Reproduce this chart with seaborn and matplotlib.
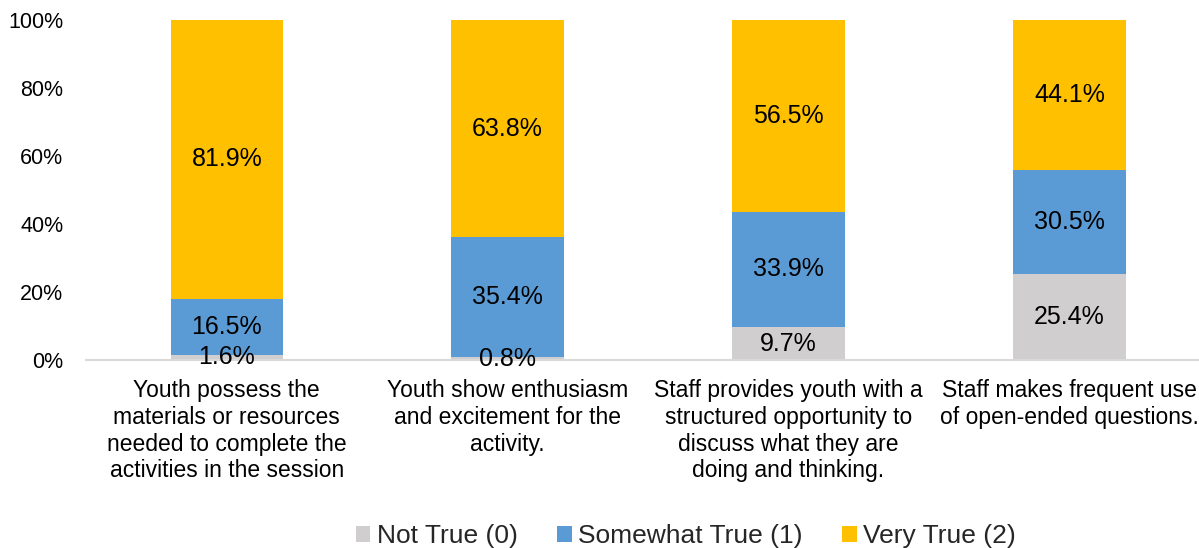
import matplotlib
matplotlib.use("Agg")
import matplotlib.pyplot as plt
import numpy as np
import pandas as pd
import seaborn as sns
from matplotlib.patches import Patch
from matplotlib.ticker import FuncFormatter

categories = [
    "Youth possess the\nmaterials or resources\nneeded to complete the\nactivities in the session",
    "Youth show enthusiasm\nand excitement for the\nactivity.",
    "Staff provides youth with a\nstructured opportunity to\ndiscuss what they are\ndoing and thinking.",
    "Staff makes frequent use\nof open-ended questions.",
]
series_names = ["Not True (0)", "Somewhat True (1)", "Very True (2)"]
not_true = [1.6, 0.8, 9.7, 25.4]
somewhat_true = [16.5, 35.4, 33.9, 30.5]
very_true = [81.9, 63.8, 56.5, 44.1]
colors = ["#D0CECE", "#5B9BD5", "#FFC000"]

sns.set_theme(style="white")
plt.rcParams["font.family"] = ["Liberation Sans", "DejaVu Sans"]

fig = plt.figure(figsize=(11.99, 5.48), dpi=100)
ax = fig.add_axes([0.072, 0.343, 0.93, 0.62])

values = [not_true, somewhat_true, very_true]
bottom = np.zeros(len(categories))
for name, vals, col in zip(series_names, values, colors):
    df = pd.DataFrame({"cat": categories, "val": vals})
    sns.barplot(data=df, x="cat", y="val", color=col, width=0.4,
                bottom=bottom, ax=ax, saturation=1, linewidth=0,
                errorbar=None)
    for i, v in enumerate(vals):
        ax.text(i, bottom[i] + v / 2, f"{v:.1f}%", ha="center", va="center",
                fontsize=18, color="#000000")
    bottom = bottom + np.array(vals)

ax.set_ylim(0, 100)
ax.set_xlim(-0.5, 3.47)
ax.set_yticks(range(0, 101, 20))
ax.yaxis.set_major_formatter(FuncFormatter(lambda v, p: f"{v:.0f}%"))
ax.set_xlabel("")
ax.set_ylabel("")
ax.tick_params(axis="y", labelsize=15.5, colors="#000000", length=0, pad=16.5)
ax.tick_params(axis="x", labelsize=16.5, colors="#000000", length=0, pad=14)
for lab in ax.get_xticklabels():
    lab.set_linespacing(1.2)

for s in ["top", "right", "left"]:
    ax.spines[s].set_visible(False)
ax.spines["bottom"].set_color("#D9D9D9")
ax.spines["bottom"].set_linewidth(1.5)
ax.grid(False)

handles = [Patch(facecolor=c, edgecolor="none", label=n) for n, c in zip(series_names, colors)]
fig.legend(handles=handles, loc="center", bbox_to_anchor=(0.572, 0.022),
           ncol=3, frameon=False, handlelength=0.55, handleheight=0.55,
           handletextpad=0.25, columnspacing=1.5,
           prop={"family": ["Liberation Sans", "DejaVu Sans"], "size": 19})

fig.savefig("out.png", dpi=100)
